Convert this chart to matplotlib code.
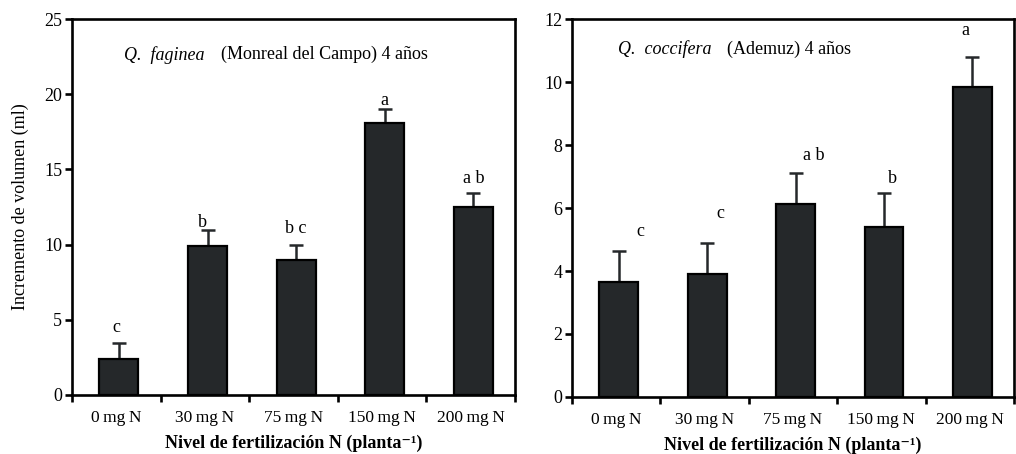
import matplotlib
matplotlib.use('Agg')
import matplotlib.pyplot as plt
import numpy as np

plt.rcParams['font.family'] = ['Liberation Serif', 'DejaVu Serif']
plt.rcParams['mathtext.fontset'] = 'stix'

categories = ['0\u2009mg\u2009N', '30\u2009mg\u2009N', '75\u2009mg\u2009N',
              '150\u2009mg\u2009N', '200\u2009mg\u2009N']

faginea_vals = [2.4, 9.9, 9.0, 18.1, 12.5]
faginea_err = [1.05, 1.1, 1.0, 0.9, 0.9]
faginea_letters = ['c', 'b', 'b c', 'a', 'a b']
faginea_letter_y = [4.5, 11.5, 11.1, 19.6, 14.4]
faginea_letter_dx = [-0.03, -0.06, 0.0, 0.0, 0.0]

coccifera_vals = [3.65, 3.92, 6.12, 5.4, 9.83]
coccifera_err = [1.0, 0.98, 0.98, 1.08, 0.97]
coccifera_letters = ['c', 'c', 'a b', 'b', 'a']
coccifera_letter_y = [5.24, 5.84, 7.68, 6.95, 11.65]
coccifera_letter_dx = [0.24, 0.15, 0.2, 0.09, -0.08]

bar_color = '#25282a'
lw = 1.9


def draw_panel(ax, vals, errs, letters, letter_y, letter_dx, ymax, yticks):
    x = np.arange(len(categories))
    ax.bar(x + 0.03, vals, 0.44, color=bar_color, edgecolor='black', linewidth=1.6, zorder=2)
    ax.errorbar(x + 0.03, vals, yerr=[np.zeros(len(errs)), errs], fmt='none',
                ecolor='#25282a', elinewidth=1.8, capsize=5, capthick=1.8, zorder=1)
    for i, (lab, ly, dx) in enumerate(zip(letters, letter_y, letter_dx)):
        ax.text(i + 0.03 + dx, ly, lab, ha='center', va='center', fontsize=13)

    ax.set_xlim(-0.5, len(categories) - 0.5)
    ax.set_ylim(0, ymax)
    ax.set_yticks(yticks)
    ax.set_xticks(np.arange(-0.5, len(categories), 1.0))
    ax.set_xticklabels([])
    ax.set_xticks(x, minor=True)
    ax.set_xticklabels(categories, minor=True, fontsize=12.5)
    ax.tick_params(axis='x', which='minor', length=0, pad=11)
    ax.tick_params(axis='x', which='major', direction='out', length=5, width=lw)
    ax.tick_params(axis='y', direction='out', length=5, width=lw, labelsize=13, pad=2)
    for sp in ax.spines.values():
        sp.set_linewidth(lw)
    ax.set_xlabel('Nivel de fertilización N (planta⁻¹)',
                  fontsize=13, fontweight='bold', labelpad=6)


fig = plt.figure(figsize=(10.16, 4.54), dpi=100)
ax1 = fig.add_axes([0.0709, 0.130, 0.436, 0.828])
ax2 = fig.add_axes([0.563, 0.1256, 0.435, 0.8324])

draw_panel(ax1, faginea_vals, faginea_err, faginea_letters, faginea_letter_y,
           faginea_letter_dx, 25, [0, 5, 10, 15, 20, 25])
ax1.set_ylabel('Incremento de volumen (ml)', fontsize=13, labelpad=11)
ax1.text(0.118, 0.905, 'Q.  faginea', transform=ax1.transAxes, style='italic',
         fontsize=13, va='center', ha='left')
ax1.text(0.336, 0.905, '(Monreal del Campo) 4 años', transform=ax1.transAxes,
         fontsize=13, va='center', ha='left')

draw_panel(ax2, coccifera_vals, coccifera_err, coccifera_letters, coccifera_letter_y,
           coccifera_letter_dx, 12, [0, 2, 4, 6, 8, 10, 12])
ax2.text(0.103, 0.92, 'Q.  coccifera', transform=ax2.transAxes, style='italic',
         fontsize=13, va='center', ha='left')
ax2.text(0.351, 0.92, '(Ademuz) 4 años', transform=ax2.transAxes,
         fontsize=13, va='center', ha='left')

fig.savefig('out.png', dpi=100)
